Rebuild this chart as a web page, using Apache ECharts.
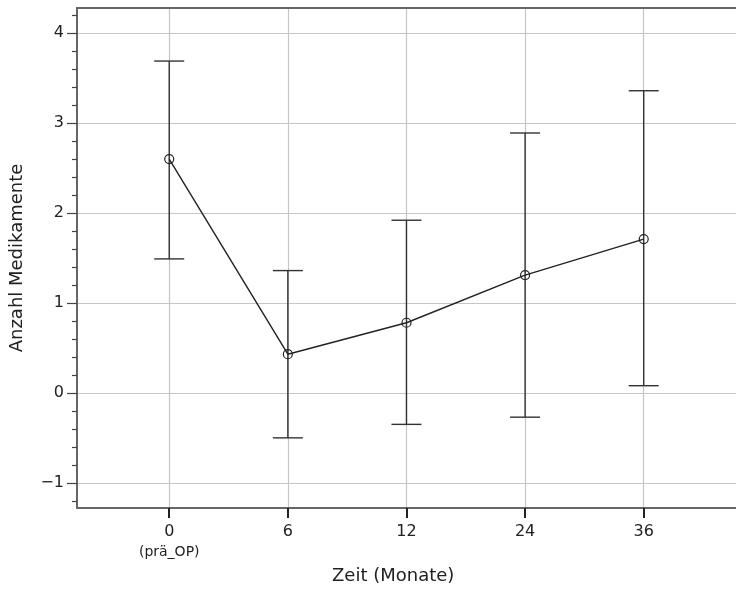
<!DOCTYPE html>
<html>
<head>
<meta charset="utf-8">
<script src="https://cdn.jsdelivr.net/npm/echarts@6/dist/echarts.min.js"></script>
<style>
html, body { margin: 0; padding: 0; background: #fff; }
#chart { width: 736px; height: 602px; }
</style>
</head>
<body>
<div id="chart"></div>
<script>
// Zeitpunkte (Monate) und Mittelwerte mit Fehlerbalken
var months = ['0', '6', '12', '24', '36'];
var means = [2.60, 0.43, 0.78, 1.31, 1.71];
var upper = [3.69, 1.36, 1.92, 2.89, 3.36];
var lower = [1.49, -0.50, -0.35, -0.27, 0.08];

var yTicks = [-1, 0, 1, 2, 3, 4];
var yMinorTicks = [-1.2, -0.8, -0.6, -0.4, -0.2, 0.2, 0.4, 0.6, 0.8,
                   1.2, 1.4, 1.6, 1.8, 2.2, 2.4, 2.6, 2.8,
                   3.2, 3.4, 3.6, 3.8, 4.2];
var xPos = [0, 1, 2, 3, 4];

var font = 'DejaVu Sans';
var axisColor = '#666';
var gridColor = '#c6c6c6';

var chart = echarts.init(document.getElementById('chart'));

chart.setOption({
    animation: false,
    backgroundColor: '#fff',
    textStyle: { fontFamily: font },
    grid: { left: 77, right: -9, top: 8, bottom: 94 },
    xAxis: [
        {
            type: 'value',
            min: -0.7775,
            max: 4.778,
            axisLine: { show: true, onZero: false, lineStyle: { color: axisColor, width: 2 } },
            axisTick: { show: true, inside: false, customValues: xPos, length: 10, lineStyle: { color: '#222', width: 2 } },
            axisLabel: {
                customValues: xPos,
                margin: 14,
                formatter: function (v) {
                    var i = Math.round(v);
                    if (i === 0) return '{a|' + months[i] + '}\n{b|(prä_OP)}';
                    return '{a|' + months[i] + '}';
                },
                rich: {
                    a: { fontSize: 16, color: '#222', fontFamily: font, lineHeight: 20 },
                    b: { fontSize: 14, color: '#222', fontFamily: font, lineHeight: 20 }
                }
            },
            splitLine: { show: true, lineStyle: { color: gridColor, width: 1.2 } }
        },
        {
            type: 'value',
            position: 'top',
            min: -0.7775,
            max: 4.778,
            axisLine: { show: true, onZero: false, lineStyle: { color: axisColor, width: 2 } },
            axisTick: { show: false },
            axisLabel: { show: false },
            splitLine: { show: false }
        }
    ],
    yAxis: [
        {
            type: 'value',
            min: -1.28,
            max: 4.28,
            name: 'Anzahl Medikamente',
            nameLocation: 'middle',
            nameGap: 51,
            nameRotate: 90,
            nameTextStyle: { fontSize: 18, color: '#222', fontFamily: font },
            axisLine: { show: true, onZero: false, lineStyle: { color: axisColor, width: 2 } },
            axisTick: { show: true, customValues: yTicks, length: 10, lineStyle: { color: '#444', width: 1.2 } },
            axisLabel: { customValues: yTicks, fontSize: 16, color: '#222', margin: 13,
                formatter: function (v) { return v < 0 ? '\u2212' + Math.abs(v) : String(v); } },
            splitLine: { show: true, lineStyle: { color: gridColor, width: 1.2 } }
        },
        {
            type: 'value',
            position: 'left',
            min: -1.28,
            max: 4.28,
            axisLine: { show: false, onZero: false },
            axisTick: { show: true, customValues: yMinorTicks, length: 5, lineStyle: { color: '#444', width: 1.2 } },
            axisLabel: { show: false },
            splitLine: { show: false }
        }
    ],
    graphic: [
        {
            type: 'text',
            left: 332,
            top: 567,
            style: { text: 'Zeit (Monate)', fontSize: 18, fill: '#222', fontFamily: font }
        }
    ],
    series: [
        {
            type: 'custom',
            xAxisIndex: 0,
            yAxisIndex: 0,
            z: 3,
            encode: { x: 0, y: [1, 2] },
            data: xPos.map(function (x, i) { return [x, lower[i], upper[i]]; }),
            renderItem: function (params, api) {
                var x = api.value(0);
                var lo = api.coord([x, api.value(1)]);
                var hi = api.coord([x, api.value(2)]);
                var w = 15;
                var st = { stroke: '#333', lineWidth: 1.4 };
                return {
                    type: 'group',
                    children: [
                        { type: 'line', shape: { x1: lo[0], y1: lo[1], x2: hi[0], y2: hi[1] }, style: st },
                        { type: 'line', shape: { x1: lo[0] - w, y1: lo[1], x2: lo[0] + w, y2: lo[1] }, style: st },
                        { type: 'line', shape: { x1: hi[0] - w, y1: hi[1], x2: hi[0] + w, y2: hi[1] }, style: st }
                    ]
                };
            }
        },
        {
            type: 'line',
            xAxisIndex: 0,
            yAxisIndex: 0,
            z: 4,
            data: xPos.map(function (x, i) { return [x, means[i]]; }),
            symbol: 'circle',
            symbolSize: 9,
            lineStyle: { color: '#222', width: 1.4 },
            itemStyle: { color: 'rgba(255,255,255,0)', borderColor: '#222', borderWidth: 1.2 }
        }
    ]
});
</script>
</body>
</html>
